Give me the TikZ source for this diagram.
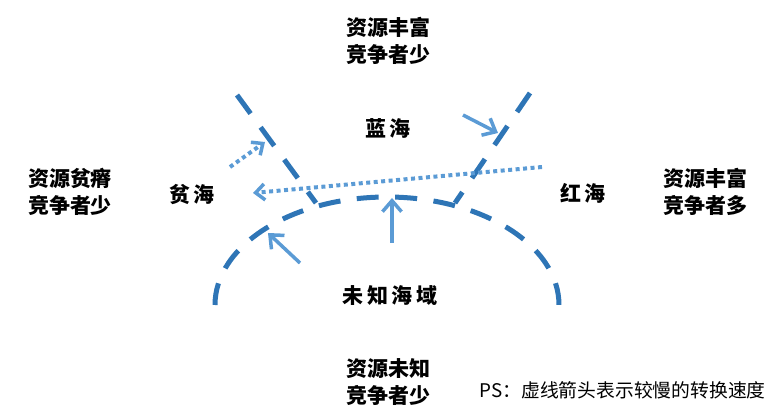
\documentclass[tikz,border=0pt]{standalone}
\usepackage{fontspec}
\setmainfont{Noto Sans CJK SC}
\usepackage{tikz}
\usetikzlibrary{arrows.meta, calc}
\definecolor{lineblue}{HTML}{2E75B6}
\definecolor{arrowblue}{HTML}{5B9BD5}

\begin{document}
\begin{tikzpicture}[x=1pt, y=1pt,
        border/.style={line width=5pt, color=lineblue, dash pattern=on 23pt off 17pt},
        fast/.style={line width=3.5pt, color=arrowblue, -{Straight Barb[length=11pt, width=19pt, line width=3.5pt]}},
        slow/.style={line width=4pt, color=arrowblue, dash pattern=on 4pt off 3.5pt, -{Straight Barb[length=9pt, width=16pt, line width=3.5pt]}},
        info/.style={font=\bfseries\fontsize{21}{27}\selectfont, align=center},
        sea/.style={font=\bfseries\fontsize{21}{25}\selectfont}]
        \useasboundingbox (0,0) rectangle (780,420);

        \draw[border] (237,325) -- (316,217);
        \draw[border] (530,327) -- (455,217);
        \draw[border, dash pattern=on 22pt off 16.5pt] (215,115) arc[start angle=180, end angle=0, x radius=172, y radius=108];

        \node[info] (rich) at (388,379) {资源丰富\\竞争者少};
        \node[info] (poor) at (70,228) {资源贫瘠\\竞争者少};
        \node[info] (crowd) at (705,228) {资源丰富\\竞争者多};
        \node[info] (unknown) at (388,38) {资源未知\\竞争者少};

        \node[sea] (blue) at (388,292) {蓝\,海};
        \node[sea] (barren) at (192,225) {贫\,海};
        \node[sea] (red) at (583,227) {红\,海};
        \node[sea] (uncharted) at (390,124) {未\,知\,海\,域};

        \node[anchor=west, font=\fontsize{18.8}{20}\selectfont] (note) at (476,30) {PS：虚线箭头表示较慢的转换速度};

        \coordinate (a1) at (300,157);
        \coordinate (a2) at (268,187);
        \coordinate (b1) at (392,177);
        \coordinate (b2) at (392,222);
        \coordinate (c1) at (463,305);
        \coordinate (c2) at (498,287);
        \coordinate (d1) at (230,253);
        \coordinate (d2) at (265,278);
        \coordinate (e1) at (542,253);
        \coordinate (e2) at (253,227);

        \draw[fast] (a1) -- (a2);
        \draw[fast] (b1) -- (b2);
        \draw[fast] (c1) -- (c2);
        \draw[slow] (d1) -- (d2);
        \draw[slow] (e1) -- (e2);
    \end{tikzpicture}
\end{document}
